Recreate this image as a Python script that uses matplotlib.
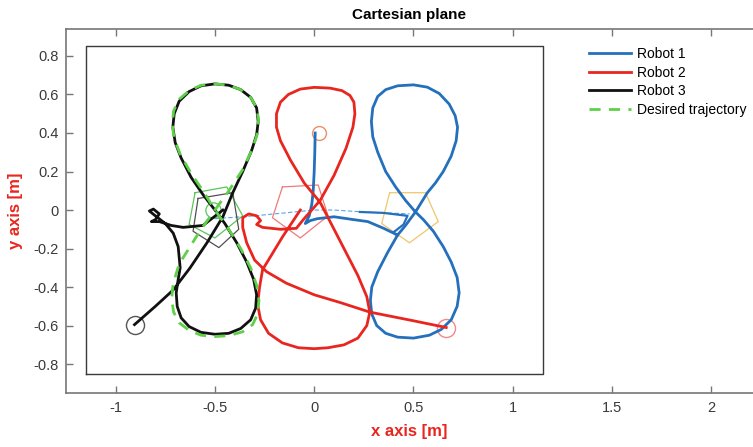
import matplotlib
matplotlib.use("Agg")
import matplotlib.pyplot as plt

plt.rcParams['font.family'] = ['Liberation Sans', 'DejaVu Sans']

# ---- data (metres) ----
robot1_x = [0.005, 0.003, 0.0, -0.005, -0.012, -0.025, -0.045, -0.02, 0.015, 0.1, 0.2, 0.27, 0.35, 0.42,
            0.37, 0.32, 0.29, 0.283, 0.29, 0.315, 0.36, 0.42, 0.5, 0.58, 0.64, 0.69, 0.72, 0.73, 0.72, 0.69,
            0.65, 0.6, 0.55, 0.51, 0.46, 0.41, 0.36, 0.32, 0.295, 0.288, 0.295, 0.32, 0.36, 0.42, 0.5, 0.57,
            0.63, 0.68, 0.71, 0.722, 0.715, 0.69, 0.65, 0.61, 0.57, 0.54, 0.51, 0.46, 0.42]
robot1_y = [0.40, 0.30, 0.20, 0.10, 0.03, -0.03, -0.07, -0.055, -0.045, -0.035, -0.05, -0.06, -0.095, -0.13,
            -0.22, -0.32, -0.40, -0.47, -0.54, -0.6, -0.64, -0.66, -0.665, -0.65, -0.62, -0.57, -0.5, -0.43,
            -0.35, -0.27, -0.19, -0.11, -0.05, -0.01, 0.05, 0.12, 0.2, 0.3, 0.38, 0.46, 0.53, 0.59, 0.625,
            0.645, 0.65, 0.638, 0.605, 0.55, 0.49, 0.43, 0.36, 0.28, 0.2, 0.14, 0.09, 0.04, -0.01, -0.08, -0.13]
robot1_hook_x = [0.23, 0.35, 0.47, 0.45, 0.40]
robot1_hook_y = [-0.01, -0.015, -0.03, -0.075, -0.115]

robot2_x = [0.665, 0.5, 0.28, 0.13, 0.0, -0.14, -0.24, -0.3, -0.34, -0.36, -0.36, -0.33, -0.29, -0.27, -0.29,
            -0.26, -0.17, -0.09, -0.055, 0.03, 0.1, 0.16, 0.195, 0.205, 0.2, 0.18, 0.14, 0.08, 0.0, -0.07,
            -0.13, -0.17, -0.19, -0.19, -0.17, -0.12, -0.05, 0.03, 0.08, 0.15, 0.22, 0.265, 0.28, 0.265, 0.22,
            0.15, 0.07, 0.0, -0.08, -0.16, -0.23, -0.27, -0.285, -0.275, -0.26, -0.16, -0.07]
robot2_y = [-0.61, -0.575, -0.53, -0.48, -0.44, -0.38, -0.32, -0.26, -0.17, -0.09, -0.04, -0.02, -0.03, -0.055,
            -0.075, -0.09, -0.10, -0.095, -0.05, 0.05, 0.18, 0.32, 0.43, 0.5, 0.56, 0.595, 0.62, 0.633, 0.637,
            0.628, 0.6, 0.56, 0.5, 0.43, 0.36, 0.26, 0.14, 0.04, -0.06, -0.2, -0.34, -0.45, -0.53, -0.6, -0.665,
            -0.7, -0.715, -0.72, -0.715, -0.69, -0.64, -0.57, -0.49, -0.4, -0.31, -0.14, 0.0]

robot3_x = [-0.905, -0.8, -0.71, -0.625, -0.54, -0.46, -0.41, -0.36, -0.315, -0.29, -0.282, -0.29, -0.32,
            -0.37, -0.43, -0.5, -0.57, -0.63, -0.68, -0.705, -0.712, -0.7, -0.67, -0.62, -0.56, -0.5, -0.45,
            -0.39, -0.34, -0.305, -0.29, -0.295, -0.32, -0.37, -0.43, -0.5, -0.57, -0.63, -0.67, -0.69,
            -0.695, -0.685, -0.675, -0.685, -0.71, -0.75, -0.8, -0.83, -0.81, -0.78, -0.8, -0.82, -0.78,
            -0.72, -0.66, -0.56, -0.51, -0.46]
robot3_y = [-0.595, -0.5, -0.415, -0.3, -0.17, -0.035, 0.09, 0.2, 0.31, 0.39, 0.46, 0.53, 0.585, 0.625,
            0.648, 0.655, 0.645, 0.615, 0.565, 0.5, 0.43, 0.35, 0.27, 0.17, 0.08, 0.0, -0.07, -0.17, -0.27,
            -0.36, -0.44, -0.51, -0.57, -0.615, -0.64, -0.645, -0.635, -0.605, -0.56, -0.5, -0.43, -0.36,
            -0.3, -0.19, -0.12, -0.07, -0.03, -0.005, 0.005, -0.02, -0.05, -0.06, -0.06, -0.08, -0.09,
            -0.08, -0.04, 0.0]

desired_x = [-0.5, -0.43, -0.36, -0.31, -0.285, -0.28, -0.29, -0.32, -0.37, -0.43, -0.5, -0.57, -0.63,
             -0.68, -0.708, -0.715, -0.705, -0.675, -0.62, -0.56, -0.5, -0.43, -0.37, -0.32, -0.29, -0.278,
             -0.285, -0.31, -0.36, -0.43, -0.5, -0.57, -0.63, -0.68, -0.708, -0.718, -0.71, -0.68, -0.625,
             -0.57, -0.5]
desired_y = [0.0, 0.1, 0.21, 0.32, 0.4, 0.47, 0.53, 0.585, 0.625, 0.648, 0.655, 0.648, 0.62, 0.575, 0.515,
             0.445, 0.37, 0.29, 0.19, 0.1, 0.0, -0.1, -0.2, -0.3, -0.39, -0.47, -0.54, -0.595, -0.632, -0.652,
             -0.657, -0.65, -0.625, -0.585, -0.53, -0.46, -0.38, -0.28, -0.19, -0.1, 0.0]

# virtual leader path (thin dashed)
leader_x = [-0.5, -0.3, -0.1, 0.0, 0.1, 0.25, 0.48]
leader_y = [-0.045, -0.03, -0.01, 0.0, 0.0, -0.01, -0.02]

# formation polygons (pentagons) at a snapshot
pent_green_x = [-0.6, -0.44, -0.36, -0.5, -0.63, -0.6]
pent_green_y = [0.09, 0.12, -0.03, -0.145, -0.075, 0.09]
pent_gray_x = [-0.585, -0.41, -0.38, -0.48, -0.61, -0.585]
pent_gray_y = [0.06, 0.09, -0.1, -0.195, -0.11, 0.06]
pent_red_x = [-0.16, 0.02, 0.07, -0.07, -0.21, -0.16]
pent_red_y = [0.12, 0.13, -0.03, -0.145, -0.04, 0.12]
pent_yellow_x = [0.38, 0.56, 0.625, 0.48, 0.34, 0.38]
pent_yellow_y = [0.09, 0.09, -0.06, -0.17, -0.07, 0.09]

# start positions
start_x = [0.025, 0.665, -0.905]
start_y = [0.40, -0.61, -0.595]

# workspace boundary
box_x = [-1.15, 1.15, 1.15, -1.15, -1.15]
box_y = [-0.85, -0.85, 0.85, 0.85, -0.85]

x_ticks = [-1, -0.5, 0, 0.5, 1, 1.5, 2]
x_ticklabels = ['-1', '-0.5', '0', '0.5', '1', '1.5', '2']
y_ticks = [-0.8, -0.6, -0.4, -0.2, 0, 0.2, 0.4, 0.6, 0.8]
y_ticklabels = ['-0.8', '-0.6', '-0.4', '-0.2', '0', '0.2', '0.4', '0.6', '0.8']

blue = '#2470bd'
red = '#e8261f'
green = '#5fd048'

fig = plt.figure(figsize=(7.53, 4.47), dpi=100)
ax = fig.add_axes([66 / 753, 54 / 447, 687 / 753, 364 / 447])

ax.plot(box_x, box_y, color='#3a3a3a', lw=1.0, zorder=1)

ax.plot(leader_x, leader_y, color='#5aa5e6', lw=0.8, ls=(0, (4, 2)), zorder=2)
ax.plot(pent_green_x, pent_green_y, color='#5cc45c', lw=0.9, zorder=2)
ax.plot(pent_gray_x, pent_gray_y, color='#505050', lw=0.9, zorder=2)
ax.plot(pent_red_x, pent_red_y, color='#f07a7a', lw=0.9, zorder=2)
ax.plot(pent_yellow_x, pent_yellow_y, color='#f0c66a', lw=0.9, zorder=2)
ax.plot([-0.51], [0.0], 'o', mfc='none', mec='#5cc45c', ms=11, mew=0.9, zorder=2)

ax.plot(start_x[0], start_y[0], 'o', mfc='none', mec='#e8906a', ms=10, mew=1.0, zorder=2)
ax.plot(start_x[1], start_y[1], 'o', mfc='none', mec='#f08a8a', ms=13, mew=1.0, zorder=2)
ax.plot(start_x[2], start_y[2], 'o', mfc='none', mec='#555555', ms=13, mew=1.0, zorder=2)

lw = 2.0
ax.plot(robot1_x, robot1_y, color=blue, lw=lw, label='Robot 1', zorder=3, solid_joinstyle='round')
ax.plot(robot1_hook_x, robot1_hook_y, color=blue, lw=1.6, zorder=3, solid_joinstyle='round')
ax.plot(robot2_x, robot2_y, color=red, lw=lw, label='Robot 2', zorder=3, solid_joinstyle='round')
ax.plot(robot3_x, robot3_y, color='#111111', lw=lw, label='Robot 3', zorder=3, solid_joinstyle='round')
ax.plot(desired_x, desired_y, color=green, lw=2.0, ls=(0, (4, 3)), label='Desired trajectory', zorder=4)

ax.set_xlim(-1.25, 2.21)
ax.set_ylim(-0.95, 0.94)
ax.set_xticks(x_ticks)
ax.set_xticklabels(x_ticklabels)
ax.set_yticks(y_ticks)
ax.set_yticklabels(y_ticklabels)
ax.tick_params(direction='in', length=5, width=1.0, color='#777777', labelcolor='#3a3a3a',
               labelsize=10.5, top=True, right=False)
ax.tick_params(axis='x', pad=6)
ax.tick_params(axis='y', pad=5)
for side in ['left', 'bottom', 'top']:
    ax.spines[side].set_color('#777777')
    ax.spines[side].set_linewidth(1.2)
ax.spines['right'].set_visible(False)

ax.set_title('Cartesian plane', fontsize=11, fontweight='bold', pad=7)
ax.set_xlabel('x axis [m]', color='#e8261f', fontsize=12, fontweight='bold')
ax.set_ylabel('y axis [m]', color='#e8261f', fontsize=12, fontweight='bold')
ax.xaxis.set_label_coords(0.5, -0.085)
ax.yaxis.set_label_coords(-0.062, 0.5)

ax.legend(loc='upper left', bbox_to_anchor=(0.762, 0.95), frameon=False, fontsize=10,
          handlelength=3.0, handletextpad=0.4, labelspacing=0.32, borderpad=0, borderaxespad=0)

fig.savefig('out.png', dpi=100)
